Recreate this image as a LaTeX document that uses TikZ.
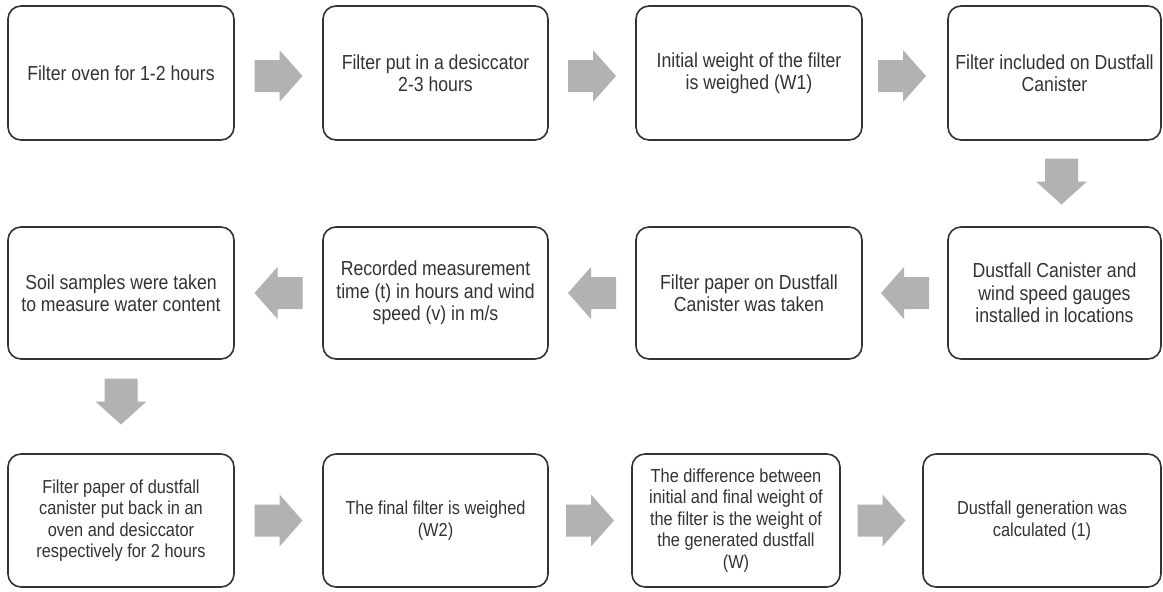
\documentclass[tikz,border=0pt]{standalone}
\usepackage{fontspec}
\setmainfont{Liberation Sans}[FakeStretch=0.87]
\usetikzlibrary{calc}
\tikzset{
  stepbox/.style={draw=black!80, line width=1.6pt, rounded corners=13pt, fill=white,
    inner sep=0pt, align=center, text=black!80},
  bigtxt/.style={font=\fontsize{20.3}{22.5}\selectfont},
  smalltxt/.style={font=\fontsize{18.8}{21.5}\selectfont},
  blockfill/.style={fill=black!30},
  pics/rarrow/.style={code={\fill[blockfill] (-24,-16) -- (1,-16) -- (1,-26) -- (24,0) -- (1,26) -- (1,16) -- (-24,16) -- cycle;}},
  pics/larrow/.style={code={\fill[blockfill] (24,-16) -- (-1,-16) -- (-1,-26) -- (-24,0) -- (-1,26) -- (-1,16) -- (24,16) -- cycle;}},
  pics/darrow/.style={code={\fill[blockfill] (-16.5,-23) -- (-16.5,0) -- (-25.5,0) -- (0,23) -- (25.5,0) -- (16.5,0) -- (16.5,-23) -- cycle;}},
}
\begin{document}
\begin{tikzpicture}[x=1pt,y=-1pt]
\useasboundingbox[fill=white] (0,0) rectangle (1163,592);
% row 1
\node[stepbox,bigtxt,minimum width=226,minimum height=134] (b1) at (121,73) {Filter oven for 1-2 hours};
\node[stepbox,bigtxt,minimum width=225,minimum height=134] (b2) at (435.5,73) {Filter put in a desiccator\\2-3 hours};
\node[stepbox,bigtxt,minimum width=226,minimum height=134] (b3) at (749,73) {Initial weight of the filter\\is weighed (W1)};
\node[stepbox,bigtxt,minimum width=213,minimum height=134] (b4) at (1054.5,73) {Filter included on Dustfall\\Canister};
% row 2
\node[stepbox,bigtxt,minimum width=213,minimum height=132] (b5) at (1054.5,293) {Dustfall Canister and\\wind speed gauges\\installed in locations};
\node[stepbox,bigtxt,minimum width=226,minimum height=132] (b6) at (749,293) {Filter paper on Dustfall\\Canister was taken};
\node[stepbox,bigtxt,minimum width=225,minimum height=132] (b7) at (435.5,293) {Recorded measurement\\time (t) in hours and wind\\speed (v) in m/s};
\node[stepbox,bigtxt,minimum width=226,minimum height=132] (b8) at (121,293) {Soil samples were taken\\to measure water content};
% row 3
\node[stepbox,smalltxt,minimum width=226,minimum height=133] (b9) at (121,520.5) {Filter paper of dustfall\\canister put back in an\\oven and desiccator\\respectively for 2 hours};
\node[stepbox,smalltxt,minimum width=225,minimum height=133] (b10) at (435.5,520.5) {The final filter is weighed\\(W2)};
\node[stepbox,smalltxt,minimum width=208,minimum height=133] (b11) at (736,520.5) {The difference between\\initial and final weight of\\the filter is the weight of\\the generated dustfall\\(W)};
\node[stepbox,smalltxt,minimum width=238,minimum height=133] (b12) at (1042,520.5) {Dustfall generation was\\calculated (1)};
% arrows
\pic at ($(b1.east)!0.5!(b2.west)+(0,3)$) {rarrow};
\pic at ($(b2.east)!0.5!(b3.west)+(0,3)$) {rarrow};
\pic at ($(b3.east)!0.5!(b4.west)+(-3,3)$) {rarrow};
\pic at ($(b4.south)!0.5!(b5.north)+(7,-2)$) {darrow};
\pic at ($(b5.west)!0.5!(b6.east)$) {larrow};
\pic at ($(b6.west)!0.5!(b7.east)$) {larrow};
\pic at ($(b7.west)!0.5!(b8.east)$) {larrow};
\pic at ($(b8.south)!0.5!(b9.north)+(0,-5)$) {darrow};
\pic at ($(b9.east)!0.5!(b10.west)$) {rarrow};
\pic at ($(b10.east)!0.5!(b11.west)$) {rarrow};
\pic at ($(b11.east)!0.5!(b12.west)$) {rarrow};
\end{tikzpicture}
\end{document}
